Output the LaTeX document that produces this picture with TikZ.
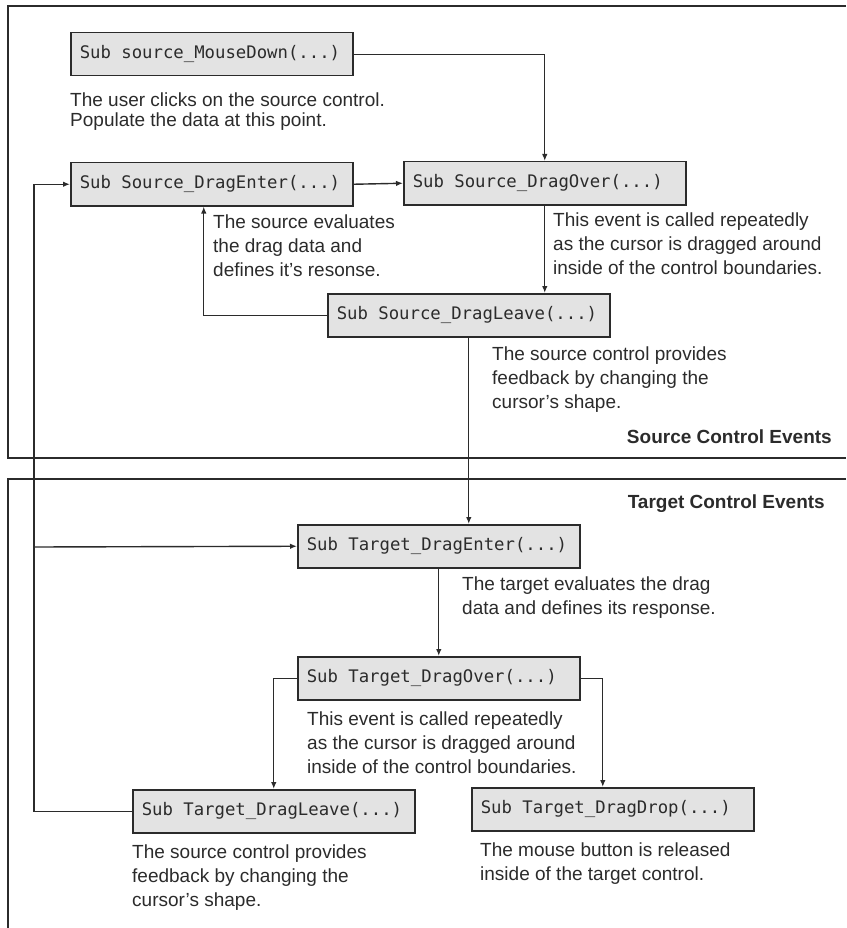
\documentclass[tikz,border=0pt]{standalone}
\usepackage{fontspec}
\setmainfont{Liberation Sans}
\newfontfamily\codefont{DejaVu Sans Mono}
\usetikzlibrary{arrows.meta}

\definecolor{boxgray}{HTML}{E3E3E3}
\definecolor{ink}{HTML}{2B2B2B}
\newcommand\codesp{\hbox to 0.602em{}}
\hyphenpenalty=10000

\begin{document}
\begin{tikzpicture}[x=1pt,y=-1pt,>={Latex[length=7pt,width=5.5pt]},
  evbox/.style={draw=ink,fill=boxgray,line width=1.5pt,anchor=north west,
    text width=264pt,inner xsep=9pt,inner ysep=0pt,minimum height=43pt,
    align=left,text=ink,font=\codefont\fontsize{17.3}{20}\selectfont},
  note/.style={anchor=north west,inner sep=0pt,align=left,text=ink,
    font=\fontsize{19}{24}\selectfont},
  heading/.style={anchor=base east,inner sep=0pt,text=ink,
    font=\bfseries\fontsize{19}{23}\selectfont},
  wire/.style={ink,line width=1.4pt}]
  \useasboundingbox (0,0) rectangle (846,928);

  % the two panels
  \draw[wire] (846,6) -- (8,6) -- (8,458) -- (846,458);
  \draw[wire] (846,479) -- (8,479) -- (8,928);
  \node[heading] (srctitle) at (832,443) {Source Control Events};
  \node[heading] (tgttitle) at (825,508) {Target Control Events};

  % source side
  \node[evbox] (mousedown) at (70,32) {Sub\codesp source\_MouseDown(...)};
  \node[note,font=\fontsize{19}{19.5}\selectfont] (mousedownnote) at (70,93)
    {The user clicks on the source control.\\Populate the data at this point.};
  \node[evbox] (srcenter) at (70,162) {Sub\codesp Source\_DragEnter(...)};
  \node[note] (srcenternote) at (213,215)
    {The source evaluates\\the drag data and\\defines it's resonse.};
  \node[evbox] (srcover) at (403,161) {Sub\codesp Source\_DragOver(...)};
  \node[note] (srcovernote) at (553,213)
    {This event is called repeatedly\\as the cursor is dragged around\\inside of the control boundaries.};
  \node[evbox] (srcleave) at (327,293) {Sub\codesp Source\_DragLeave(...)};
  \node[note] (srcleavenote) at (492,347)
    {The source control provides\\feedback by changing the\\cursor's shape.};

  % target side
  \node[evbox] (tgtenter) at (297,524) {Sub\codesp Target\_DragEnter(...)};
  \node[note] (tgtenternote) at (462,577)
    {The target evaluates the drag\\data and defines its response.};
  \node[evbox] (tgtover) at (297,656) {Sub\codesp Target\_DragOver(...)};
  \node[note] (tgtovernote) at (307,712)
    {This event is called repeatedly\\as the cursor is dragged around\\inside of the control boundaries.};
  \node[evbox] (tgtleave) at (132,789) {Sub\codesp Target\_DragLeave(...)};
  \node[note] (tgtleavenote) at (132,845)
    {The source control provides\\feedback by changing the\\cursor's shape.};
  \node[evbox] (tgtdrop) at (471,787) {Sub\codesp Target\_DragDrop(...)};
  \node[note] (tgtdropnote) at (480,843)
    {The mouse button is released\\inside of the target control.};

  \coordinate (rail) at (34,547);

  % connectors
  \draw[wire,->] (mousedown.east) -| (srcover.north);
  \draw[wire,->] (srcenter.east) -- (srcover.west);
  \draw[wire,->] (srcover.south) -- (srcover.south |- srcleave.north);
  \draw[wire,->] (srcleave.west) -| ([xshift=-8pt]srcenter.south);
  \draw[wire,->] (srcleave.south) -- (srcleave.south |- tgtenter.north);
  \draw[wire,->] (tgtenter) -- (tgtover);
  \draw[wire,->] (tgtover.west) -| (tgtleave.north);
  \draw[wire,->] (tgtover.east) -| ([xshift=-10pt]tgtdrop.north);
  \draw[wire,->] (tgtleave.west) -| (rail) |- (srcenter.west);
  \draw[wire,->] (rail) -- (tgtenter.west);
\end{tikzpicture}
\end{document}
